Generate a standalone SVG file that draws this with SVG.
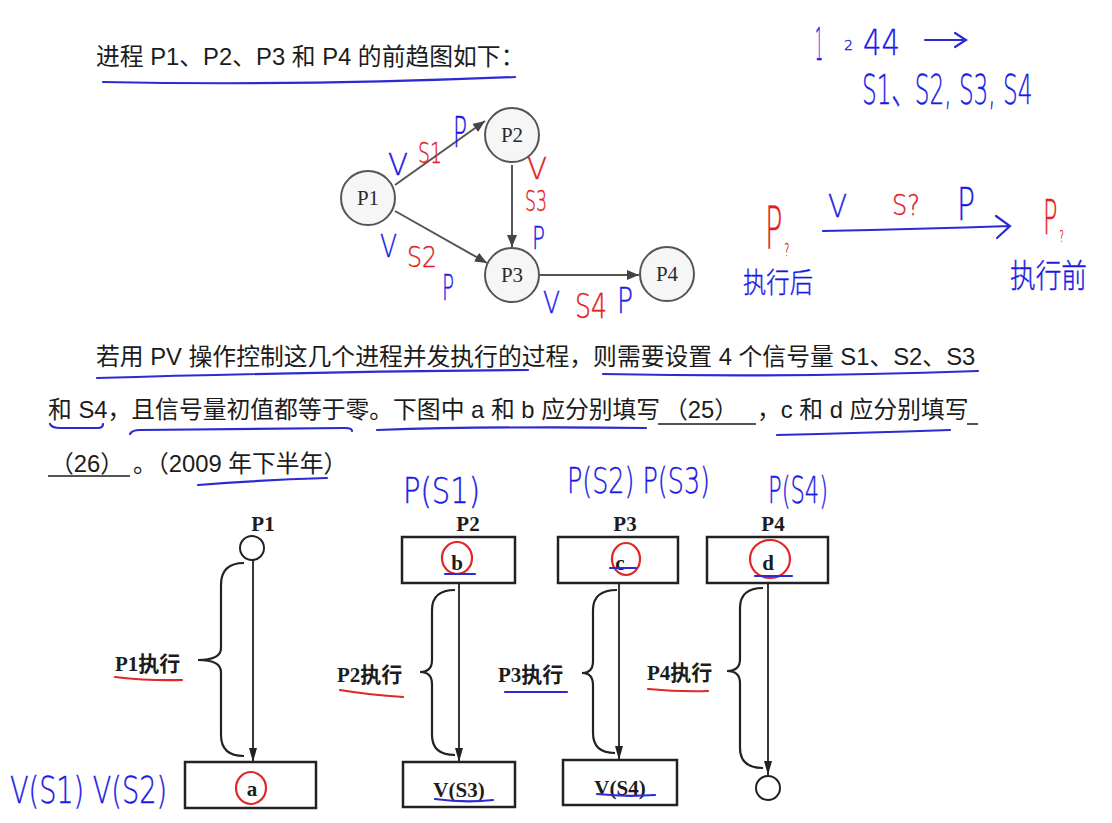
<svg xmlns="http://www.w3.org/2000/svg" width="1112" height="823" viewBox="0 0 1112 823">
<defs>
<style>
.t{font-family:"Liberation Sans","Noto Sans CJK SC",sans-serif;font-size:23.8px;fill:#1c1c1c}
.s{font-family:"Liberation Serif","Noto Sans CJK SC",serif;font-weight:bold;font-size:21px;fill:#1c1c1c}
.g{font-family:"Liberation Serif",serif;font-size:21px;fill:#2a2a2a}
.hb{font-family:"DejaVu Sans","Noto Sans CJK SC",sans-serif;font-weight:200;fill:#1a1ae6;stroke:#1a1ae6;stroke-width:0.4}
.hr{font-family:"DejaVu Sans","Noto Sans CJK SC",sans-serif;font-weight:200;fill:#e32020;stroke:#e32020;stroke-width:0.4}
.ub{fill:none;stroke:#2b2bd4;stroke-width:2.2;stroke-linecap:round}
.ur{fill:none;stroke:#e32626;stroke-width:2.2;stroke-linecap:round}
.bl{fill:none;stroke:#1c1c1c;stroke-width:1.6}
.node{fill:#f6f6f6;stroke:#555;stroke-width:2}
.edge{fill:none;stroke:#555;stroke-width:2}
.box{fill:#fff;stroke:#222;stroke-width:2.5}
.ln{fill:none;stroke:#222;stroke-width:1.8}
.br{fill:none;stroke:#222;stroke-width:2.2}
</style>
<marker id="ah" viewBox="0 0 12 10" refX="12" refY="5" markerWidth="12" markerHeight="10" markerUnits="userSpaceOnUse" orient="auto">
<path d="M0,0 L12,5 L0,10 Z" fill="#444"/>
</marker>
<marker id="ah2" viewBox="0 0 8 14" refX="4" refY="14" markerWidth="8" markerHeight="14" markerUnits="userSpaceOnUse" orient="0">
<path d="M0,0 L8,0 L4,14 Z" fill="#222"/>
</marker>
</defs>
<rect width="1112" height="823" fill="#fff"/>

<!-- printed text -->
<g id="text">
<text class="t" x="96" y="65">进程 P1、P2、P3 和 P4 的前趋图如下：</text>
<text class="t" x="96" y="365">若用 PV 操作控制这几个进程并发执行的过程，则需要设置 4 个信号量 S1、S2、S3</text>
<text class="t" x="48" y="418">和 S4，且信号量初值都等于零。下图中 a 和 b 应分别填写</text>
<text class="t" x="664" y="418">（25）</text>
<text class="t" x="757" y="418">，c 和 d 应分别填写</text>
<text class="t" x="50" y="472">（26）</text>
<text class="t" x="133" y="472">。（2009 年下半年）</text>
<path class="bl" d="M658,424 H756 M967,424 H978 M48,476 H130"/>
</g>

<!-- blue underlines of text -->
<g id="underlines">
<path class="ub" d="M103,82 Q300,86 515,77"/>
<path class="ub" d="M97,378 Q300,372 528,370"/>
<path class="ub" d="M603,374 Q790,378 978,371"/>
<path class="ub" d="M50,424 Q52,428 60,428 L98,428 Q103,428 103,424"/>
<path class="ub" d="M130,434 Q132,430 140,430 L345,428 Q352,428 352,431"/>
<path class="ub" d="M377,430 Q500,426 646,428"/>
<path class="ub" d="M777,435 Q860,433 950,430"/>
<path class="ub" d="M198,485 Q260,480 327,478"/>
</g>

<!-- precedence graph -->
<g id="graph-edges">
<line class="edge" x1="395" y1="185" x2="485" y2="121" marker-end="url(#ah)"/>
<line class="edge" x1="395" y1="211" x2="487" y2="263" marker-end="url(#ah)"/>
<line class="edge" x1="512" y1="165" x2="512" y2="247" marker-end="url(#ah)"/>
<line class="edge" x1="540" y1="275" x2="639" y2="275" marker-end="url(#ah)"/>
</g>
<g id="gP1"><circle class="node" cx="368" cy="198" r="27"/><text class="g" x="368" y="205" text-anchor="middle">P1</text></g>
<g id="gP2"><circle class="node" cx="512" cy="135" r="27"/><text class="g" x="512" y="142" text-anchor="middle">P2</text></g>
<g id="gP3"><circle class="node" cx="512" cy="275" r="27"/><text class="g" x="512" y="282" text-anchor="middle">P3</text></g>
<g id="gP4"><circle class="node" cx="667" cy="274" r="27"/><text class="g" x="667" y="281" text-anchor="middle">P4</text></g>

<!-- graph handwriting -->
<g id="graph-notes">
<text class="hb" x="388" y="175" font-size="30" textLength="20" lengthAdjust="spacingAndGlyphs">V</text>
<text class="hr" x="418" y="163" font-size="28" textLength="24" lengthAdjust="spacingAndGlyphs">S1</text>
<text class="hb" x="453" y="147" font-size="42" textLength="14" lengthAdjust="spacingAndGlyphs">P</text>
<text class="hr" x="527" y="179" font-size="30" textLength="20" lengthAdjust="spacingAndGlyphs">V</text>
<text class="hr" x="525" y="211" font-size="28" textLength="22" lengthAdjust="spacingAndGlyphs">S3</text>
<text class="hb" x="532" y="249" font-size="32" textLength="13" lengthAdjust="spacingAndGlyphs">P</text>
<text class="hb" x="380" y="257" font-size="32" textLength="17" lengthAdjust="spacingAndGlyphs">V</text>
<text class="hr" x="407" y="267" font-size="28" textLength="30" lengthAdjust="spacingAndGlyphs">S2</text>
<text class="hb" x="442" y="300" font-size="36" textLength="12" lengthAdjust="spacingAndGlyphs">P</text>
<text class="hb" x="543" y="313" font-size="31" textLength="17" lengthAdjust="spacingAndGlyphs">V</text>
<text class="hr" x="575" y="318" font-size="34" textLength="32" lengthAdjust="spacingAndGlyphs">S4</text>
<text class="hb" x="617" y="313" font-size="36" textLength="16" lengthAdjust="spacingAndGlyphs">P</text>
</g>

<!-- top-right notes -->
<g id="notes-top">
<text class="hb" x="815" y="60" font-size="44" textLength="8" lengthAdjust="spacingAndGlyphs">1</text>
<text class="hb" x="844" y="50" font-size="14" textLength="9" lengthAdjust="spacingAndGlyphs">2</text>
<text class="hb" x="863" y="55" font-size="36" textLength="37" lengthAdjust="spacingAndGlyphs">44</text>
<path class="ub" d="M925,40 H965 M955,33 L966,40 L955,47"/>
<text class="hb" transform="translate(862,104) scale(0.58,1)" font-size="40">S1、S2, S3, S4</text>
</g>

<!-- middle-right notes -->
<g id="notes-mid">
<text class="hr" transform="translate(765,248) scale(0.5,1)" font-size="58">P<tspan font-size="18" dx="4" dy="8">?</tspan></text>
<text class="hb" x="743" y="293" font-size="28" textLength="70" lengthAdjust="spacingAndGlyphs">执行后</text>
<text class="hb" x="828" y="217" font-size="32" textLength="19" lengthAdjust="spacingAndGlyphs">V</text>
<text class="hr" x="892" y="215" font-size="28" textLength="28" lengthAdjust="spacingAndGlyphs">S?</text>
<text class="hb" x="957" y="220" font-size="44" textLength="18" lengthAdjust="spacingAndGlyphs">P</text>
<path class="ub" d="M823,231 Q920,229 1010,226 M996,216 L1010,226 L997,238"/>
<text class="hr" transform="translate(1043,234) scale(0.5,1)" font-size="48">P<tspan font-size="16" dx="4" dy="8">?</tspan></text>
<text class="hb" x="1010" y="287" font-size="32" textLength="77" lengthAdjust="spacingAndGlyphs">执行前</text>
</g>

<!-- bottom diagram connectors -->
<g id="connectors">
<line class="ln" x1="253" y1="561" x2="253" y2="762" marker-end="url(#ah2)"/>
<line class="ln" x1="459" y1="583" x2="459" y2="762" marker-end="url(#ah2)"/>
<line class="ln" x1="619" y1="583" x2="619" y2="760" marker-end="url(#ah2)"/>
<line class="ln" x1="768" y1="583" x2="768" y2="775" marker-end="url(#ah2)"/>
<path class="br" d="M244,563 Q221,563 221,585 L221,648 Q221,660 198,660 Q221,660 221,672 L221,735 Q221,756 244,756"/>
<path class="br" d="M455,590 Q432,590 432,610 L432,660 Q432,672 420,672 Q432,672 432,684 L432,735 Q432,755 455,755"/>
<path class="br" d="M617,590 Q593,590 593,610 L593,661 Q593,673 582,673 Q593,673 593,685 L593,733 Q593,753 615,753"/>
<path class="br" d="M763,588 Q740,588 740,608 L740,659 Q740,671 727,671 Q740,671 740,683 L740,748 Q740,768 763,768"/>
</g>

<!-- bottom diagram nodes -->
<g id="P1">
<text class="s" x="263" y="531" text-anchor="middle">P1</text>
<circle cx="252" cy="548" r="12" fill="#fff" stroke="#222" stroke-width="2"/>
<text class="s" x="115" y="671">P1执行</text>
<rect class="box" x="185" y="762" width="131" height="46"/>
<text class="s" x="252" y="796" text-anchor="middle">a</text>
</g>
<g id="P2">
<text class="s" x="468" y="531" text-anchor="middle">P2</text>
<rect class="box" x="402" y="537" width="113" height="46"/>
<text class="s" x="457" y="570" text-anchor="middle">b</text>
<text class="s" x="337" y="682">P2执行</text>
<rect class="box" x="403" y="762" width="112" height="45"/>
<text class="s" x="459" y="797" text-anchor="middle">V(S3)</text>
</g>
<g id="P3">
<text class="s" x="625" y="531" text-anchor="middle">P3</text>
<rect class="box" x="558" y="537" width="120" height="46"/>
<text class="s" x="620" y="570" text-anchor="middle">c</text>
<text class="s" x="498" y="682">P3执行</text>
<rect class="box" x="563" y="760" width="114" height="45"/>
<text class="s" x="620" y="795" text-anchor="middle">V(S4)</text>
</g>
<g id="P4">
<text class="s" x="773" y="531" text-anchor="middle">P4</text>
<rect class="box" x="707" y="537" width="121" height="46"/>
<text class="s" x="768" y="570" text-anchor="middle">d</text>
<text class="s" x="647" y="680">P4执行</text>
<circle cx="768" cy="788" r="12" fill="#fff" stroke="#222" stroke-width="2"/>
</g>

<!-- bottom annotations -->
<g id="annotations">
<ellipse class="ur" cx="251" cy="788" rx="15" ry="16"/>
<ellipse class="ur" cx="457" cy="558" rx="15" ry="16"/>
<ellipse class="ur" cx="626" cy="559" rx="14" ry="16"/>
<ellipse class="ur" cx="770" cy="559" rx="20" ry="19"/>
<path class="ub" d="M445,574 H475 M610,568 H636 M755,576 H792 M435,799 Q465,803 493,800 M597,794 Q625,797 655,795 M505,692 H567"/>
<path class="ur" d="M115,677 Q150,681 182,680 M340,690 Q370,695 403,697 M648,689 Q680,692 708,691"/>
<text class="hb" x="403" y="503" font-size="36" textLength="77" lengthAdjust="spacingAndGlyphs">P(S1)</text>
<text class="hb" x="567" y="493" font-size="36" textLength="143" lengthAdjust="spacingAndGlyphs">P(S2) P(S3)</text>
<text class="hb" x="768" y="503" font-size="38" textLength="60" lengthAdjust="spacingAndGlyphs">P(S4)</text>
<text class="hb" x="10" y="803" font-size="38" textLength="157" lengthAdjust="spacingAndGlyphs">V(S1) V(S2)</text>
</g>
</svg>
